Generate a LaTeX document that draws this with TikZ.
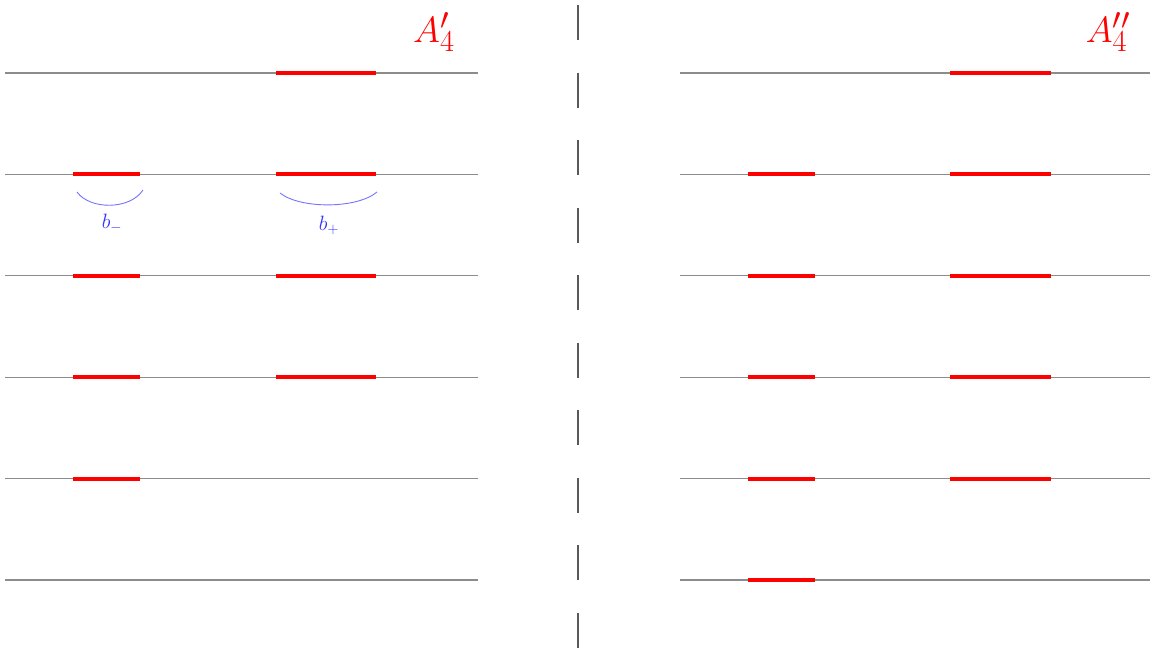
\documentclass[tikz,border=0pt]{standalone}
\begin{document}
\begin{tikzpicture}[x=1pt,y=-1pt,
  baseline/.style={draw=gray!90,line width=1.2pt},
  redseg/.style={draw=red,line width=4pt},
  arcline/.style={draw=blue!55,line width=0.9pt},
  arclabel/.style={text=blue!80,font=\huge,inner sep=0pt},
  biglabel/.style={text=red,font=\Huge,scale=1.47,inner sep=0pt},
  divider/.style={draw=black!65,line width=2pt,dash pattern=on 35pt off 32.55pt}]
\useasboundingbox (0,0) rectangle (1150,650);
% baselines
\foreach \i in {0,...,5}{
  \pgfmathsetmacro{\yy}{73+101.4*\i}
  \draw[baseline] (5,\yy) -- (477.5,\yy);
  \draw[baseline] (680,\yy) -- (1150,\yy);
}
% left red segments
\foreach \i in {0,1,2,3}{
  \pgfmathsetmacro{\yy}{73+101.4*\i}
  \draw[redseg] (276,\yy) -- (376,\yy);
}
\foreach \i in {1,2,3,4}{
  \pgfmathsetmacro{\yy}{73+101.4*\i}
  \draw[redseg] (73,\yy) -- (140,\yy);
}
% right red segments
\foreach \i in {0,...,4}{
  \pgfmathsetmacro{\yy}{73+101.4*\i}
  \draw[redseg] (949.5,\yy) -- (1050.5,\yy);
}
\foreach \i in {1,...,5}{
  \pgfmathsetmacro{\yy}{73+101.4*\i}
  \draw[redseg] (747.5,\yy) -- (815,\yy);
}
% arcs and labels
\draw[arcline] (77,192) .. controls (90,210) and (130,210) .. (143,190);
\draw[arcline] (280,193) .. controls (300,209) and (357,209) .. (377,192);
\node[arclabel] (bm) at (112,223) {$b_-$};
\node[arclabel] (bp) at (329,225) {$b_+$};
% titles
\node[biglabel] (A1) at (434,32) {$A'_4$};
\node[biglabel] (A2) at (1108,32) {$A''_4$};
% divider
\coordinate (dtop) at (578,5);
\coordinate (dbot) at (578,648);
\draw[divider] (dtop) -- (dbot);
\end{tikzpicture}
\end{document}
